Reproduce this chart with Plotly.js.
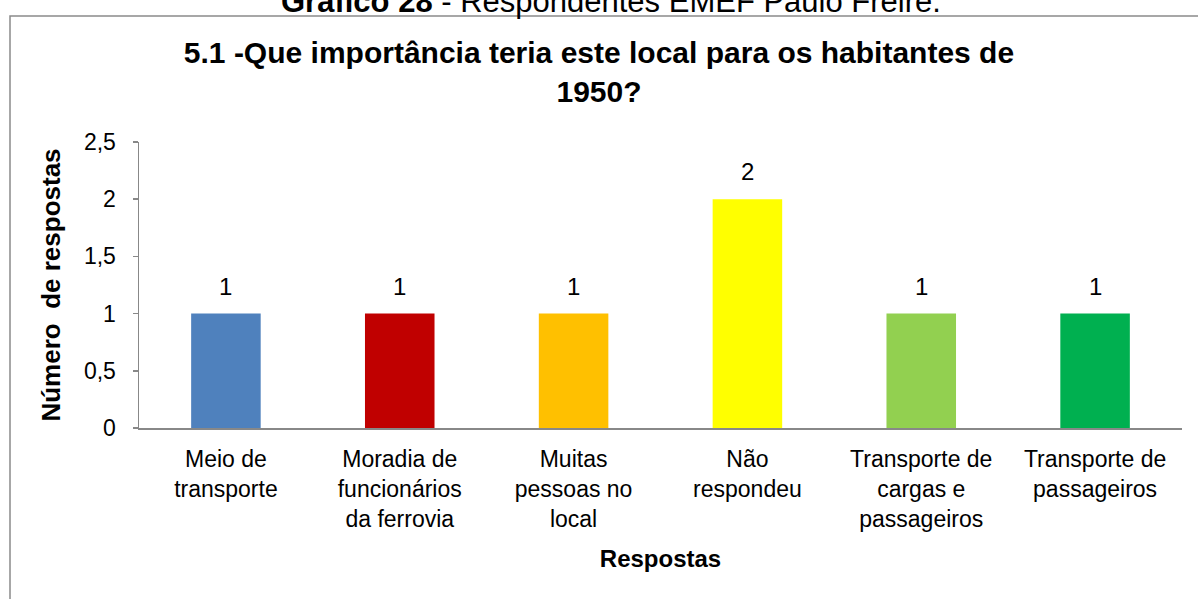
<!DOCTYPE html>
<html>
<head>
<meta charset="utf-8">
<script src="https://cdn.plot.ly/plotly-3.0.1.min.js"></script>
<style>html,body{margin:0;padding:0;background:#fff;}#chart{width:1198px;height:599px;}</style>
</head>
<body>
<div id="chart"></div>
<script>
var categories = ["Meio de<br>transporte", "Moradia de<br>funcionários<br>da ferrovia", "Muitas<br>pessoas no<br>local", "Não<br>respondeu", "Transporte de<br>cargas e<br>passageiros", "Transporte de<br>passageiros"];
var values = [1, 1, 1, 2, 1, 1];
var colors = ["#4F81BD", "#C00000", "#FFC000", "#FFFF00", "#92D050", "#00B050"];
var yTicks = [0, 0.5, 1, 1.5, 2, 2.5];
var yTickText = ["0", "0,5", "1", "1,5", "2", "2,5"];

var F = "Liberation Sans, Arial, sans-serif";
var trace = {
  type: "bar",
  x: categories,
  y: values,
  marker: {color: colors},
  hoverinfo: "none"
};
var L = 139, R = 1182, T = 142, B = 428, W = 1198, H = 599;
function px(x){return (x - L)/(R - L);}
function py(y){return (B - y)/(B - T);}
var labels = categories.map(function(c, i){
  return {x: c, y: values[i], xref: "x", yref: "y", yanchor: "bottom", yshift: 12, showarrow: false,
          text: String(values[i]), font: {family: F, size: 24, color: "#000"}};
});
labels.push({xref: "paper", yref: "paper", x: px(611), y: py(21), xanchor: "center", yanchor: "bottom", showarrow: false,
  text: "<b>Gráfico 28</b> - Respondentes EMEF Paulo Freire.", font: {family: F, size: 31, color: "#000"}});
var layout = {
  width: W, height: H,
  margin: {l: L, r: W - R, t: T, b: H - B, pad: 0},
  paper_bgcolor: "#fff", plot_bgcolor: "#fff",
  separators: ",.",
  bargap: 0.6,
  showlegend: false,
  font: {family: F, color: "#000"},
  title: {text: "<b>5.1 -Que importância teria este local para os habitantes de<br>1950?</b>", font: {family: F, size: 30, color: "#000"}, x: 0.5, xref: "container", xanchor: "center", y: 1 - 63/599, yref: "container", yanchor: "middle"},
  xaxis: {
    type: "category",
    showline: true, linecolor: "#888", linewidth: 1.5,
    ticks: "", tickfont: {family: F, size: 23, color: "#000"},
    ticklabelstandoff: 10,
    title: {text: "<b>Respostas</b>", font: {family: F, size: 24, color: "#000"}, standoff: 19},
    automargin: false
  },
  yaxis: {
    range: [0, 2.5], tickvals: yTicks, ticktext: yTickText,
    showline: true, linecolor: "#888", linewidth: 1.5,
    ticks: "outside", ticklen: 5, tickcolor: "#888", tickwidth: 1.5,
    ticklabelstandoff: 12,
    showgrid: false, zeroline: false,
    tickfont: {family: F, size: 23, color: "#000"},
    title: {text: "<b>Número  de respostas</b>", font: {family: F, size: 26, color: "#000"}, standoff: 16},
    automargin: false
  },
  shapes: [{type: "rect", xref: "paper", yref: "paper", x0: px(10), x1: px(1215), y0: py(16), y1: py(620), line: {color: "#8a8a8a", width: 1.5}, fillcolor: "rgba(0,0,0,0)", layer: "below"}],
  annotations: labels
};
Plotly.newPlot("chart", [trace], layout, {displayModeBar: false, staticPlot: true});
</script>
</body>
</html>
